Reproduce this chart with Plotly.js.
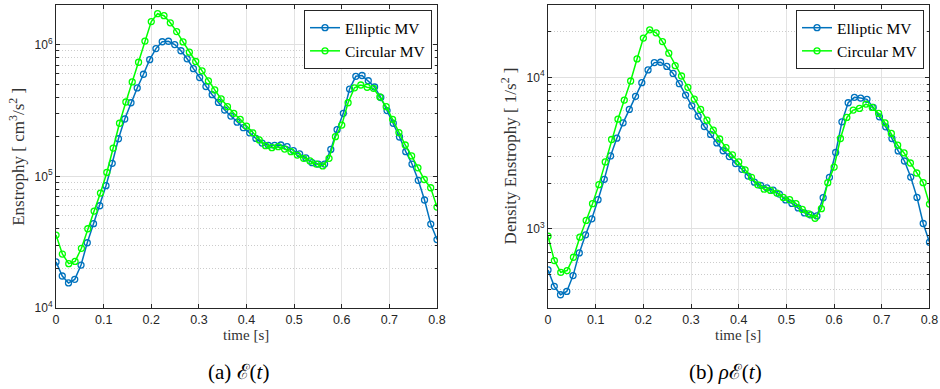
<!DOCTYPE html>
<html>
<head>
<meta charset="utf-8">
<script src="https://cdn.plot.ly/plotly-3.0.1.min.js"></script>
<style>html,body{margin:0;padding:0;background:#fff;}#chart{width:940px;height:389px;}</style>
</head>
<body>
<div id="chart"></div>
<script>
// time samples (s)
const tElliptic = [0, 0.0131, 0.0262, 0.0393, 0.0525, 0.0656, 0.0787, 0.0918, 0.1049, 0.1180, 0.1311, 0.1443, 0.1574, 0.1705, 0.1836, 0.1967, 0.2098, 0.2230, 0.2361, 0.2492, 0.2623, 0.2754, 0.2885, 0.3016, 0.3148, 0.3279, 0.3410, 0.3541, 0.3672, 0.3803, 0.3934, 0.4066, 0.4197, 0.4328, 0.4459, 0.4590, 0.4721, 0.4852, 0.4984, 0.5115, 0.5246, 0.5377, 0.5508, 0.5639, 0.5770, 0.5902, 0.6033, 0.6164, 0.6295, 0.6426, 0.6557, 0.6689, 0.6820, 0.6951, 0.7082, 0.7213, 0.7344, 0.7475, 0.7607, 0.7738, 0.7869, 0.8];
const tCircular = [0, 0.0133, 0.0267, 0.04, 0.0533, 0.0667, 0.08, 0.0933, 0.1067, 0.12, 0.1333, 0.1467, 0.16, 0.1733, 0.1867, 0.2, 0.2133, 0.2267, 0.24, 0.2533, 0.2667, 0.28, 0.2933, 0.3067, 0.32, 0.3333, 0.3467, 0.36, 0.3733, 0.3867, 0.4, 0.4133, 0.4267, 0.44, 0.4533, 0.4667, 0.48, 0.4933, 0.5067, 0.52, 0.5333, 0.5467, 0.56, 0.5733, 0.5867, 0.6, 0.6133, 0.6267, 0.64, 0.6533, 0.6667, 0.68, 0.6933, 0.7067, 0.72, 0.7333, 0.7467, 0.76, 0.7733, 0.7867, 0.8];

// (a) Enstrophy [cm^3/s^2]
const enstElliptic = [22400, 17500, 15500, 16500, 21200, 31300, 43700, 59800, 84900, 125600, 193000, 272500, 362000, 469000, 596000, 769000, 933000, 1052000, 1061000, 1002000, 899000, 781000, 657000, 563000, 481000, 417000, 364000, 319000, 287000, 258000, 234000, 214000, 194000, 179000, 172000, 172000, 173000, 168000, 157000, 148000, 138000, 127000, 124000, 124000, 160000, 226000, 301000, 460000, 575000, 583000, 532000, 477000, 397000, 316000, 253000, 199000, 154000, 124000, 93300, 66100, 43400, 33100];
const enstCircular = [35800, 25700, 21700, 22600, 28400, 40000, 54500, 74600, 107000, 164000, 253000, 367000, 521000, 735000, 1064000, 1496000, 1718000, 1659000, 1466000, 1256000, 1049000, 877000, 745000, 633000, 530000, 453000, 387000, 338000, 301000, 271000, 241000, 214000, 189000, 171000, 165000, 168000, 161000, 154000, 145000, 137000, 131000, 124000, 120000, 137000, 200000, 245000, 362000, 470000, 494000, 475000, 466000, 401000, 338000, 271000, 215000, 173000, 143000, 116000, 94600, 81900, 58400];

// (b) Density Enstrophy [1/s^2]
const densElliptic = [535, 417, 367, 386, 491, 693, 912, 1164, 1556, 2121, 3025, 3963, 5003, 6140, 7486, 9210, 11180, 12500, 12570, 11790, 10600, 9070, 7630, 6480, 5540, 4735, 4195, 3690, 3275, 2998, 2693, 2470, 2230, 2031, 1935, 1864, 1800, 1695, 1551, 1471, 1373, 1273, 1234, 1216, 1604, 2187, 3188, 5080, 6790, 7375, 7290, 7150, 6330, 5480, 4710, 3945, 3266, 2803, 2196, 1612, 1084, 815];
const densCircular = [893, 617, 516, 530, 649, 880, 1135, 1464, 1956, 2761, 3884, 5292, 7072, 9452, 13220, 18140, 20580, 19650, 17210, 14420, 11930, 10200, 8590, 7180, 6140, 5215, 4480, 3915, 3430, 3080, 2761, 2451, 2188, 1950, 1826, 1793, 1720, 1612, 1556, 1464, 1342, 1253, 1174, 1357, 2017, 2557, 3946, 5433, 6076, 6233, 6655, 6330, 5777, 5003, 4259, 3562, 3167, 2718, 2335, 2017, 1455];

const seriesNames = ['Elliptic MV', 'Circular MV'];
const xTicks = [0, 0.1, 0.2, 0.3, 0.4, 0.5, 0.6, 0.7, 0.8];
const yMajorA = [1e4, 1e5, 1e6];
const yMajorAText = ['10<sup>4</sup>', '10<sup>5</sup>', '10<sup>6</sup>'];
const yMinorA = [2e4,3e4,4e4,5e4,6e4,7e4,8e4,9e4,2e5,3e5,4e5,5e5,6e5,7e5,8e5,9e5,2e6];
const yMajorB = [1e3, 1e4];
const yMajorBText = ['10<sup>3</sup>', '10<sup>4</sup>'];
const yMinorB = [400,500,600,700,800,900,2000,3000,4000,5000,6000,7000,8000,9000,20000,30000];

const BLUE = '#0072BD', GREEN = '#00FF00', AX = '#262626';
const serif = 'Liberation Serif, Times New Roman, serif';
const sans = 'Liberation Sans, Arial, sans-serif';

function trace(x, y, name, color, xa, ya, leg) {
  return {x, y, name, type: 'scatter', mode: 'lines+markers', xaxis: xa, yaxis: ya, legend: leg,
    line: {color, width: 1.5},
    marker: {symbol: 'circle-open', size: 6, color, line: {color, width: 1.3}}};
}

const data = [
  trace(tElliptic, enstElliptic, seriesNames[0], BLUE, 'x', 'y', 'legend'),
  trace(tCircular, enstCircular, seriesNames[1], GREEN, 'x', 'y', 'legend'),
  trace(tElliptic, densElliptic, seriesNames[0], BLUE, 'x2', 'y2', 'legend2'),
  trace(tCircular, densCircular, seriesNames[1], GREEN, 'x2', 'y2', 'legend2')
];

function xax(domain, anchor) {
  return {domain, anchor, range: [0, 0.8], tickmode: 'array', tickvals: xTicks,
    showline: true, mirror: 'ticks', linecolor: AX, linewidth: 1,
    ticks: 'inside', ticklen: 4, tickcolor: AX, showgrid: true, gridcolor: '#e3e3e3', gridwidth: 1,
    zeroline: false, tickfont: {family: sans, size: 12.5, color: AX}};
}
function yax(domain, anchor, range, tv, tt, minor) {
  return {domain, anchor, type: 'log', range, tickmode: 'array', tickvals: tv, ticktext: tt,
    showline: true, mirror: 'ticks', linecolor: AX, linewidth: 1,
    ticks: 'inside', ticklen: 4, tickcolor: AX, showgrid: true, gridcolor: '#e0e0e0', gridwidth: 1,
    zeroline: false, tickfont: {family: sans, size: 12, color: AX},
    minor: {tickmode: 'array', tickvals: minor, ticks: 'inside', ticklen: 2.5, tickcolor: AX,
      showgrid: true, gridcolor: '#cccccc', griddash: '1px,2px', gridwidth: 1}};
}
const legStyle = {xanchor: 'right', yanchor: 'top', bgcolor: '#ffffff', bordercolor: AX, borderwidth: 1,
  font: {family: serif, size: 15.5, color: '#000'}, tracegroupgap: 0};

function note(text, x, y, size, angle, color) {
  return {text, xref: 'paper', yref: 'paper', x, y, xanchor: 'center', yanchor: 'middle',
    textangle: angle, showarrow: false, font: {family: serif, size, color}};
}

const layout = {
  width: 940, height: 389, margin: {l: 0, r: 0, t: 0, b: 0},
  paper_bgcolor: '#ffffff', plot_bgcolor: '#ffffff', showlegend: true,
  xaxis: xax([0.0596, 0.4649], 'y'),
  yaxis: yax([0.2082, 0.9871], 'x', [4, 6.301], yMajorA, yMajorAText, yMinorA),
  xaxis2: xax([0.583, 0.9888], 'y2'),
  yaxis2: yax([0.2082, 0.9871], 'x2', [2.4771, 4.4771], yMajorB, yMajorBText, yMinorB),
  legend: Object.assign({x: 0.4596, y: 0.974}, legStyle),
  legend2: Object.assign({x: 0.983, y: 0.974}, legStyle),
  annotations: [
    note('Enstrophy [ cm<sup>3</sup>/s<sup>2</sup> ]', 0.0185, 0.598, 17, -90, '#333'),
    note('Density Enstrophy [ 1/s<sup>2</sup> ]', 0.5415, 0.598, 17, -90, '#333'),
    note('time [s]', 0.2617, 0.1388, 15, 0, '#333'),
    note('time [s]', 0.7851, 0.1388, 15, 0, '#333'),
    note('(a) ℰ(<i>t</i>)', 0.2532, 0.0437, 21, 0, '#000'),
    note('(b) <i>ρ</i>ℰ(<i>t</i>)', 0.7713, 0.0437, 21, 0, '#000')
  ]
};

Plotly.newPlot('chart', data, layout, {displayModeBar: false, staticPlot: true});
</script>
</body>
</html>
